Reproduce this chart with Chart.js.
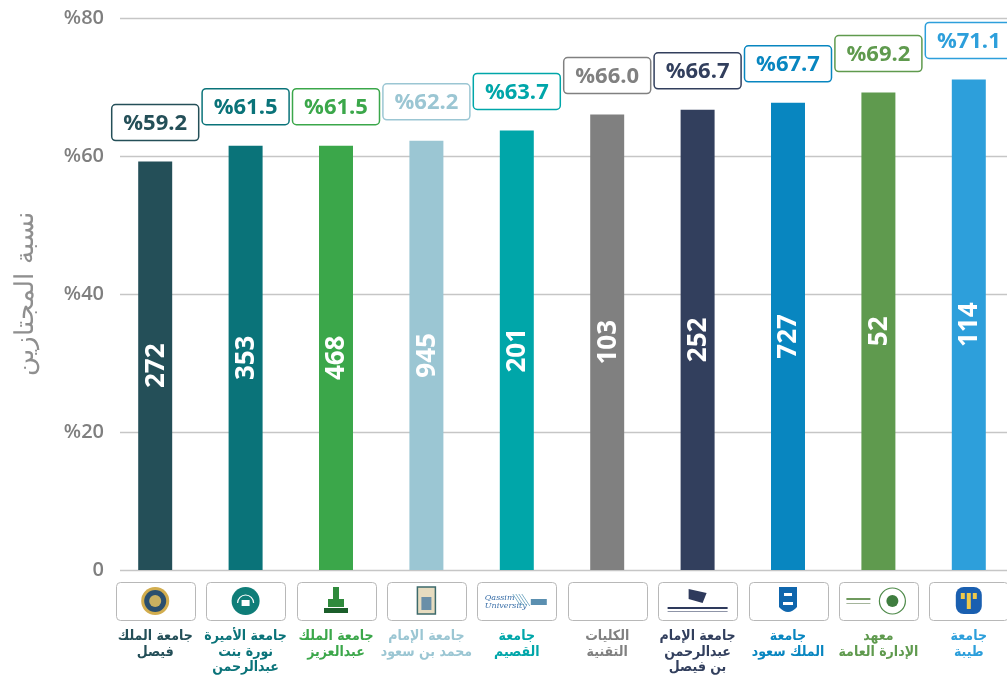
<!DOCTYPE html>
<html>
<head>
<meta charset="utf-8">
<script src="https://cdn.jsdelivr.net/npm/chart.js@4"></script>
<style>
html,body{margin:0;padding:0;overflow:hidden;background:#fff;}
canvas{display:block;}
</style>
</head>
<body>
<canvas id="c" width="1014" height="677"></canvas>
<script>
const categories = [
  ["جامعة الملك","فيصل"],
  ["جامعة الأميرة","نورة بنت","عبدالرحمن"],
  ["جامعة الملك","عبدالعزيز"],
  ["جامعة الإمام","محمد بن سعود"],
  ["جامعة","القصيم"],
  ["الكليات","التقنية"],
  ["جامعة الإمام","عبدالرحمن","بن فيصل"],
  ["جامعة","الملك سعود"],
  ["معهد","الإدارة العامة"],
  ["جامعة","طيبة"]
];
const passRates = [59.2, 61.5, 61.5, 62.2, 63.7, 66.0, 66.7, 67.7, 69.2, 71.1];
const counts = [272, 353, 468, 945, 201, 103, 252, 727, 52, 114];
const yTickLabels = ["0", "%20", "%40", "%60", "%80"];
const yTitle = "نسبة المجتازين";
const colors = ["#244f58","#0a7379","#3ba74a","#9bc6d3","#00a6a9","#808080","#323f5d","#0886c0","#5f9a4e","#2d9fdb"];

function roundRect(ctx, x, y, w, h, r) {
  ctx.beginPath();
  ctx.moveTo(x + r, y);
  ctx.lineTo(x + w - r, y);
  ctx.arcTo(x + w, y, x + w, y + r, r);
  ctx.lineTo(x + w, y + h - r);
  ctx.arcTo(x + w, y + h, x + w - r, y + h, r);
  ctx.lineTo(x + r, y + h);
  ctx.arcTo(x, y + h, x, y + h - r, r);
  ctx.lineTo(x, y + r);
  ctx.arcTo(x, y, x + r, y, r);
  ctx.closePath();
}

function drawEmblem(ctx, i, cx, cy) {
  ctx.save();
  switch (i) {
    case 0:
      ctx.fillStyle = '#d2ad4e'; ctx.beginPath(); ctx.arc(cx, cy, 14, 0, 7); ctx.fill();
      ctx.fillStyle = '#2a4f6e'; ctx.beginPath(); ctx.arc(cx, cy, 11, 0, 7); ctx.fill();
      ctx.fillStyle = '#c9b060'; ctx.beginPath(); ctx.arc(cx, cy, 6, 0, 7); ctx.fill();
      break;
    case 1:
      ctx.fillStyle = '#0f7d78'; ctx.beginPath(); ctx.arc(cx, cy, 14, 0, 7); ctx.fill();
      ctx.strokeStyle = '#ffffff'; ctx.lineWidth = 1.2; ctx.beginPath(); ctx.arc(cx, cy + 2, 8, Math.PI, 0); ctx.stroke();
      ctx.fillStyle = '#ffffff'; ctx.fillRect(cx - 4, cy - 1, 8, 6);
      break;
    case 2:
      ctx.fillStyle = '#2f8a3c';
      ctx.fillRect(cx - 3, cy - 14, 6, 18);
      ctx.fillRect(cx - 8, cy - 2, 16, 8);
      ctx.fillStyle = '#1b5e2a'; ctx.fillRect(cx - 12, cy + 7, 24, 5);
      break;
    case 3:
      ctx.fillStyle = '#e7dcc0'; ctx.fillRect(cx - 9, cy - 14, 18, 27);
      ctx.strokeStyle = '#3d6a6b'; ctx.lineWidth = 1.5; ctx.strokeRect(cx - 9, cy - 14, 18, 27);
      ctx.fillStyle = '#6a8fa8'; ctx.fillRect(cx - 5, cy - 4, 10, 13);
      break;
    case 4:
      ctx.fillStyle = '#3a6fa8'; ctx.font = 'italic 8px "DejaVu Serif"'; ctx.textAlign = 'left'; ctx.textBaseline = 'middle';
      ctx.fillText('Qassim', cx - 32, cy - 3); ctx.fillText('University', cx - 32, cy + 5);
      ctx.strokeStyle = '#7fb0c8'; ctx.lineWidth = 1;
      for (let k = 0; k < 4; k++) { ctx.beginPath(); ctx.moveTo(cx - 4 + k * 3, cy - 7); ctx.lineTo(cx + 4 + k * 3, cy + 5); ctx.stroke(); }
      ctx.fillStyle = '#5a8fb0'; ctx.fillRect(cx + 14, cy - 2, 16, 6);
      break;
    case 6:
      ctx.fillStyle = '#2e3a5c';
      ctx.beginPath(); ctx.moveTo(cx - 9, cy - 12); ctx.lineTo(cx + 9, cy - 8); ctx.lineTo(cx + 5, cy + 2); ctx.lineTo(cx - 9, cy - 2); ctx.closePath(); ctx.fill();
      ctx.fillRect(cx - 30, cy + 6, 60, 2); ctx.fillStyle = '#8f95a8'; ctx.fillRect(cx - 30, cy + 10, 60, 1);
      break;
    case 7:
      ctx.fillStyle = '#0f66ad';
      ctx.beginPath(); ctx.moveTo(cx - 9, cy - 14); ctx.lineTo(cx + 9, cy - 14); ctx.lineTo(cx + 9, cy + 6); ctx.quadraticCurveTo(cx, cy + 16, cx - 9, cy + 6); ctx.closePath(); ctx.fill();
      ctx.fillStyle = '#ffffff'; ctx.fillRect(cx - 4, cy - 8, 8, 3); ctx.fillRect(cx - 5, cy + 1, 10, 3);
      break;
    case 8:
      ctx.fillStyle = '#6f9a5e'; ctx.fillRect(cx - 32, cy - 3, 24, 2); ctx.fillStyle = '#a5b59c'; ctx.fillRect(cx - 32, cy + 2, 24, 1);
      ctx.strokeStyle = '#4f8a4a'; ctx.lineWidth = 1.2; ctx.beginPath(); ctx.arc(cx + 14, cy, 13, 0, 7); ctx.stroke();
      ctx.fillStyle = '#3f7d3f'; ctx.beginPath(); ctx.arc(cx + 14, cy, 6, 0, 7); ctx.fill();
      break;
    case 9:
      ctx.fillStyle = '#1a5fb0'; roundRect(ctx, cx - 13, cy - 14, 26, 27, 8); ctx.fill();
      ctx.fillStyle = '#f0c94a'; ctx.fillRect(cx - 2, cy - 8, 4, 16);
      ctx.fillRect(cx - 8, cy - 8, 4, 6); ctx.fillRect(cx + 4, cy - 8, 4, 6);
      break;
  }
  ctx.restore();
}

const decor = {
  id: 'decor',
  beforeDatasetsDraw(chart) {
    const ctx = chart.ctx, y = chart.scales.y;
    ctx.save();
    ctx.strokeStyle = '#c6c6c6';
    ctx.lineWidth = 1.5;
    y.ticks.forEach(t => {
      const py = Math.round(y.getPixelForValue(t.value)) + 0.5;
      ctx.beginPath();
      ctx.moveTo(120, py);
      ctx.lineTo(chart.width, py);
      ctx.stroke();
    });
    ctx.restore();
  },
  afterDatasetsDraw(chart) {
    const ctx = chart.ctx;
    const meta = chart.getDatasetMeta(0);
    ctx.save();
    meta.data.forEach((bar, i) => {
      ctx.save();
      ctx.translate(bar.x, (bar.y + bar.base) / 2);
      ctx.rotate(-Math.PI / 2);
      ctx.fillStyle = '#ffffff';
      ctx.font = 'bold 26px "Open Sans"';
      ctx.textAlign = 'center';
      ctx.textBaseline = 'middle';
      ctx.fillText(String(counts[i]), 0, 1);
      ctx.restore();
      const bw = 87, bh = 36;
      const bx = bar.x - bw / 2, by = bar.y - 21 - bh;
      ctx.fillStyle = '#ffffff';
      roundRect(ctx, bx, by, bw, bh, 4);
      ctx.fill();
      ctx.strokeStyle = colors[i];
      ctx.lineWidth = 1.5;
      ctx.stroke();
      ctx.fillStyle = colors[i];
      ctx.font = 'bold 22px "Open Sans"';
      ctx.textAlign = 'center';
      ctx.textBaseline = 'middle';
      ctx.fillText('%' + passRates[i].toFixed(1), bar.x, by + bh / 2 + 1);
    });
    const xs = chart.scales.x;
    categories.forEach((c, i) => {
      const cx = xs.getPixelForValue(i);
      ctx.strokeStyle = '#b8b8b8';
      ctx.lineWidth = 1;
      roundRect(ctx, Math.round(cx - 39.5) + 0.5, 582.5, 79, 38, 4);
      ctx.stroke();
      drawEmblem(ctx, i, cx, 601);
    });
    ctx.restore();
  }
};

new Chart(document.getElementById('c'), {
  type: 'bar',
  data: {
    labels: categories,
    datasets: [{
      data: passRates,
      backgroundColor: colors,
      borderWidth: 0,
      categoryPercentage: 1,
      barPercentage: 0.376
    }]
  },
  options: {
    responsive: false,
    animation: false,
    devicePixelRatio: 1,
    layout: { padding: { top: 17, left: 0, right: 0, bottom: 0 } },
    plugins: { legend: { display: false }, tooltip: { enabled: false } },
    scales: {
      x: {
        grid: { display: true, drawOnChartArea: false, drawTicks: true, tickLength: 59, tickColor: 'rgba(0,0,0,0)' },
        border: { display: false },
        ticks: {
          autoSkip: false,
          maxRotation: 0,
          minRotation: 0,
          padding: 0,
          font: { family: '"DejaVu Sans Condensed", "DejaVu Sans", sans-serif', weight: 'bold', size: 14, lineHeight: 1.1 },
          color: (ctx) => colors[ctx.index]
        },
        afterFit(scale) { scale.height = 107; }
      },
      y: {
        min: 0,
        max: 80,
        grid: { display: false, drawTicks: false },
        border: { display: false },
        ticks: {
          stepSize: 20,
          padding: 6,
          color: '#7f7f7f',
          font: { family: '"Open Sans"', weight: 600, size: 20 },
          callback: (v) => yTickLabels[Math.round(v / 20)]
        },
        title: {
          display: true,
          text: yTitle,
          color: '#8f8f8f',
          font: { family: '"DejaVu Sans", sans-serif', weight: 300, size: 26 },
          padding: { top: 11, bottom: 0 }
        },
        afterFit(scale) { scale.width = 110; }
      }
    }
  },
  plugins: [decor]
});
</script>
</body>
</html>
